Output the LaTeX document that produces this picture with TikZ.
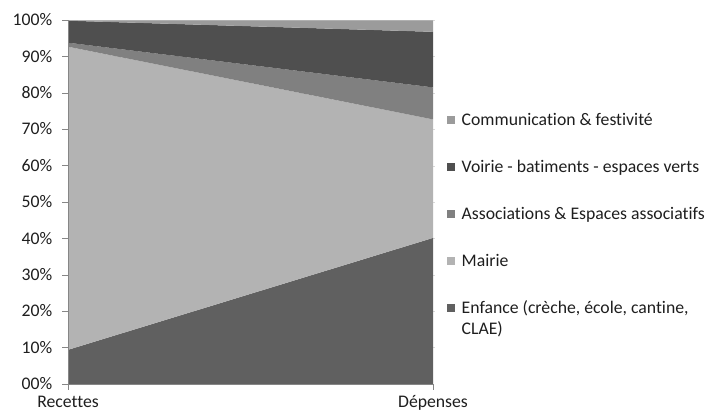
\documentclass[tikz,border=0pt]{standalone}
\usepackage{fontspec}
\setmainfont{Carlito}[Ligatures=NoCommon]
\definecolor{cEnf}{HTML}{606060}
\definecolor{cMai}{HTML}{B3B3B3}
\definecolor{cAss}{HTML}{808080}
\definecolor{cVoi}{HTML}{4F4F4F}
\definecolor{cCom}{HTML}{9B9B9B}
\definecolor{cAxis}{HTML}{868686}
\definecolor{cGrid}{HTML}{D9D9D9}
\definecolor{cTxt}{HTML}{1E1E1E}
\begin{document}
\begin{tikzpicture}[x=1pt,y=-1pt,
  lbl/.style={inner sep=0pt,text=cTxt,font=\fontsize{17.7}{21}\selectfont},
  axisline/.style={draw=cAxis,line width=0.9pt},
  legsq/.style={inner sep=0pt,minimum size=7.8pt}]
\useasboundingbox (0,0) rectangle (709,412);
% data corners (left = Recettes, right = Depenses)
\coordinate (B0) at (68,384);   \coordinate (B1) at (433,384);
\coordinate (E0) at (68,349.8); \coordinate (E1) at (433,237.9);
\coordinate (M0) at (68,46.7);  \coordinate (M1) at (433,119.4);
\coordinate (A0) at (68,42.7);  \coordinate (A1) at (433,87.4);
\coordinate (V0) at (68,20.7);  \coordinate (V1) at (433,31.8);
\coordinate (C0) at (68,20.5);  \coordinate (C1) at (433,20.5);
% faint gridlines
\foreach \k in {1,...,10}
  \draw[cGrid,line width=0.7pt] (68,{384-36.35*\k}) -- (434.5,{384-36.35*\k});
% stacked areas
\fill[cEnf] (B0) -- (E0) -- (E1) -- (B1) -- cycle;
\fill[cMai] (E0) -- (M0) -- (M1) -- (E1) -- cycle;
\fill[cAss] (M0) -- (A0) -- (A1) -- (M1) -- cycle;
\fill[cVoi] (A0) -- (V0) -- (V1) -- (A1) -- cycle;
\fill[cCom] (V0) -- (C0) -- (C1) -- (V1) -- cycle;
% axes
\coordinate (Ytop) at (68,20.5);
\draw[axisline] (Ytop) -- (B0) -- (B1);
\foreach \k in {0,...,10}{
  \draw[axisline] (62,{384-36.35*\k}) -- (68,{384-36.35*\k});
  \node[lbl,anchor=base east] (y\k) at (52.5,{384-36.35*\k+5.4}) {\k0\%};
}
\draw[axisline] (B0) -- ++(0,6);
\draw[axisline] (B1) -- ++(0,6);
\node[lbl,anchor=base] (xr) at (68,407.3) {Recettes};
\node[lbl,anchor=base] (xd) at (433,407.3) {Dépenses};
% legend
\node[legsq,fill=cCom] (s1) at (451,119.6) {};
\node[lbl,anchor=base west] (t1) at (461.5,125) {Communication \& festivité};
\node[legsq,fill=cVoi] (s2) at (451,166.6) {};
\node[lbl,anchor=base west] (t2) at (461.5,172) {Voirie - batiments - espaces verts};
\node[legsq,fill=cAss] (s3) at (451,213.6) {};
\node[lbl,anchor=base west] (t3) at (461.5,219) {Associations \& Espaces associatifs};
\node[legsq,fill=cMai] (s4) at (451,260.6) {};
\node[lbl,anchor=base west] (t4) at (461.5,266) {Mairie};
\node[legsq,fill=cEnf] (s5) at (451,307.6) {};
\node[lbl,anchor=base west] (t5) at (461.5,313) {Enfance (crèche, école, cantine,};
\node[lbl,anchor=base west] (t5b) at (461.5,334.5) {CLAE)};
\end{tikzpicture}
\end{document}
